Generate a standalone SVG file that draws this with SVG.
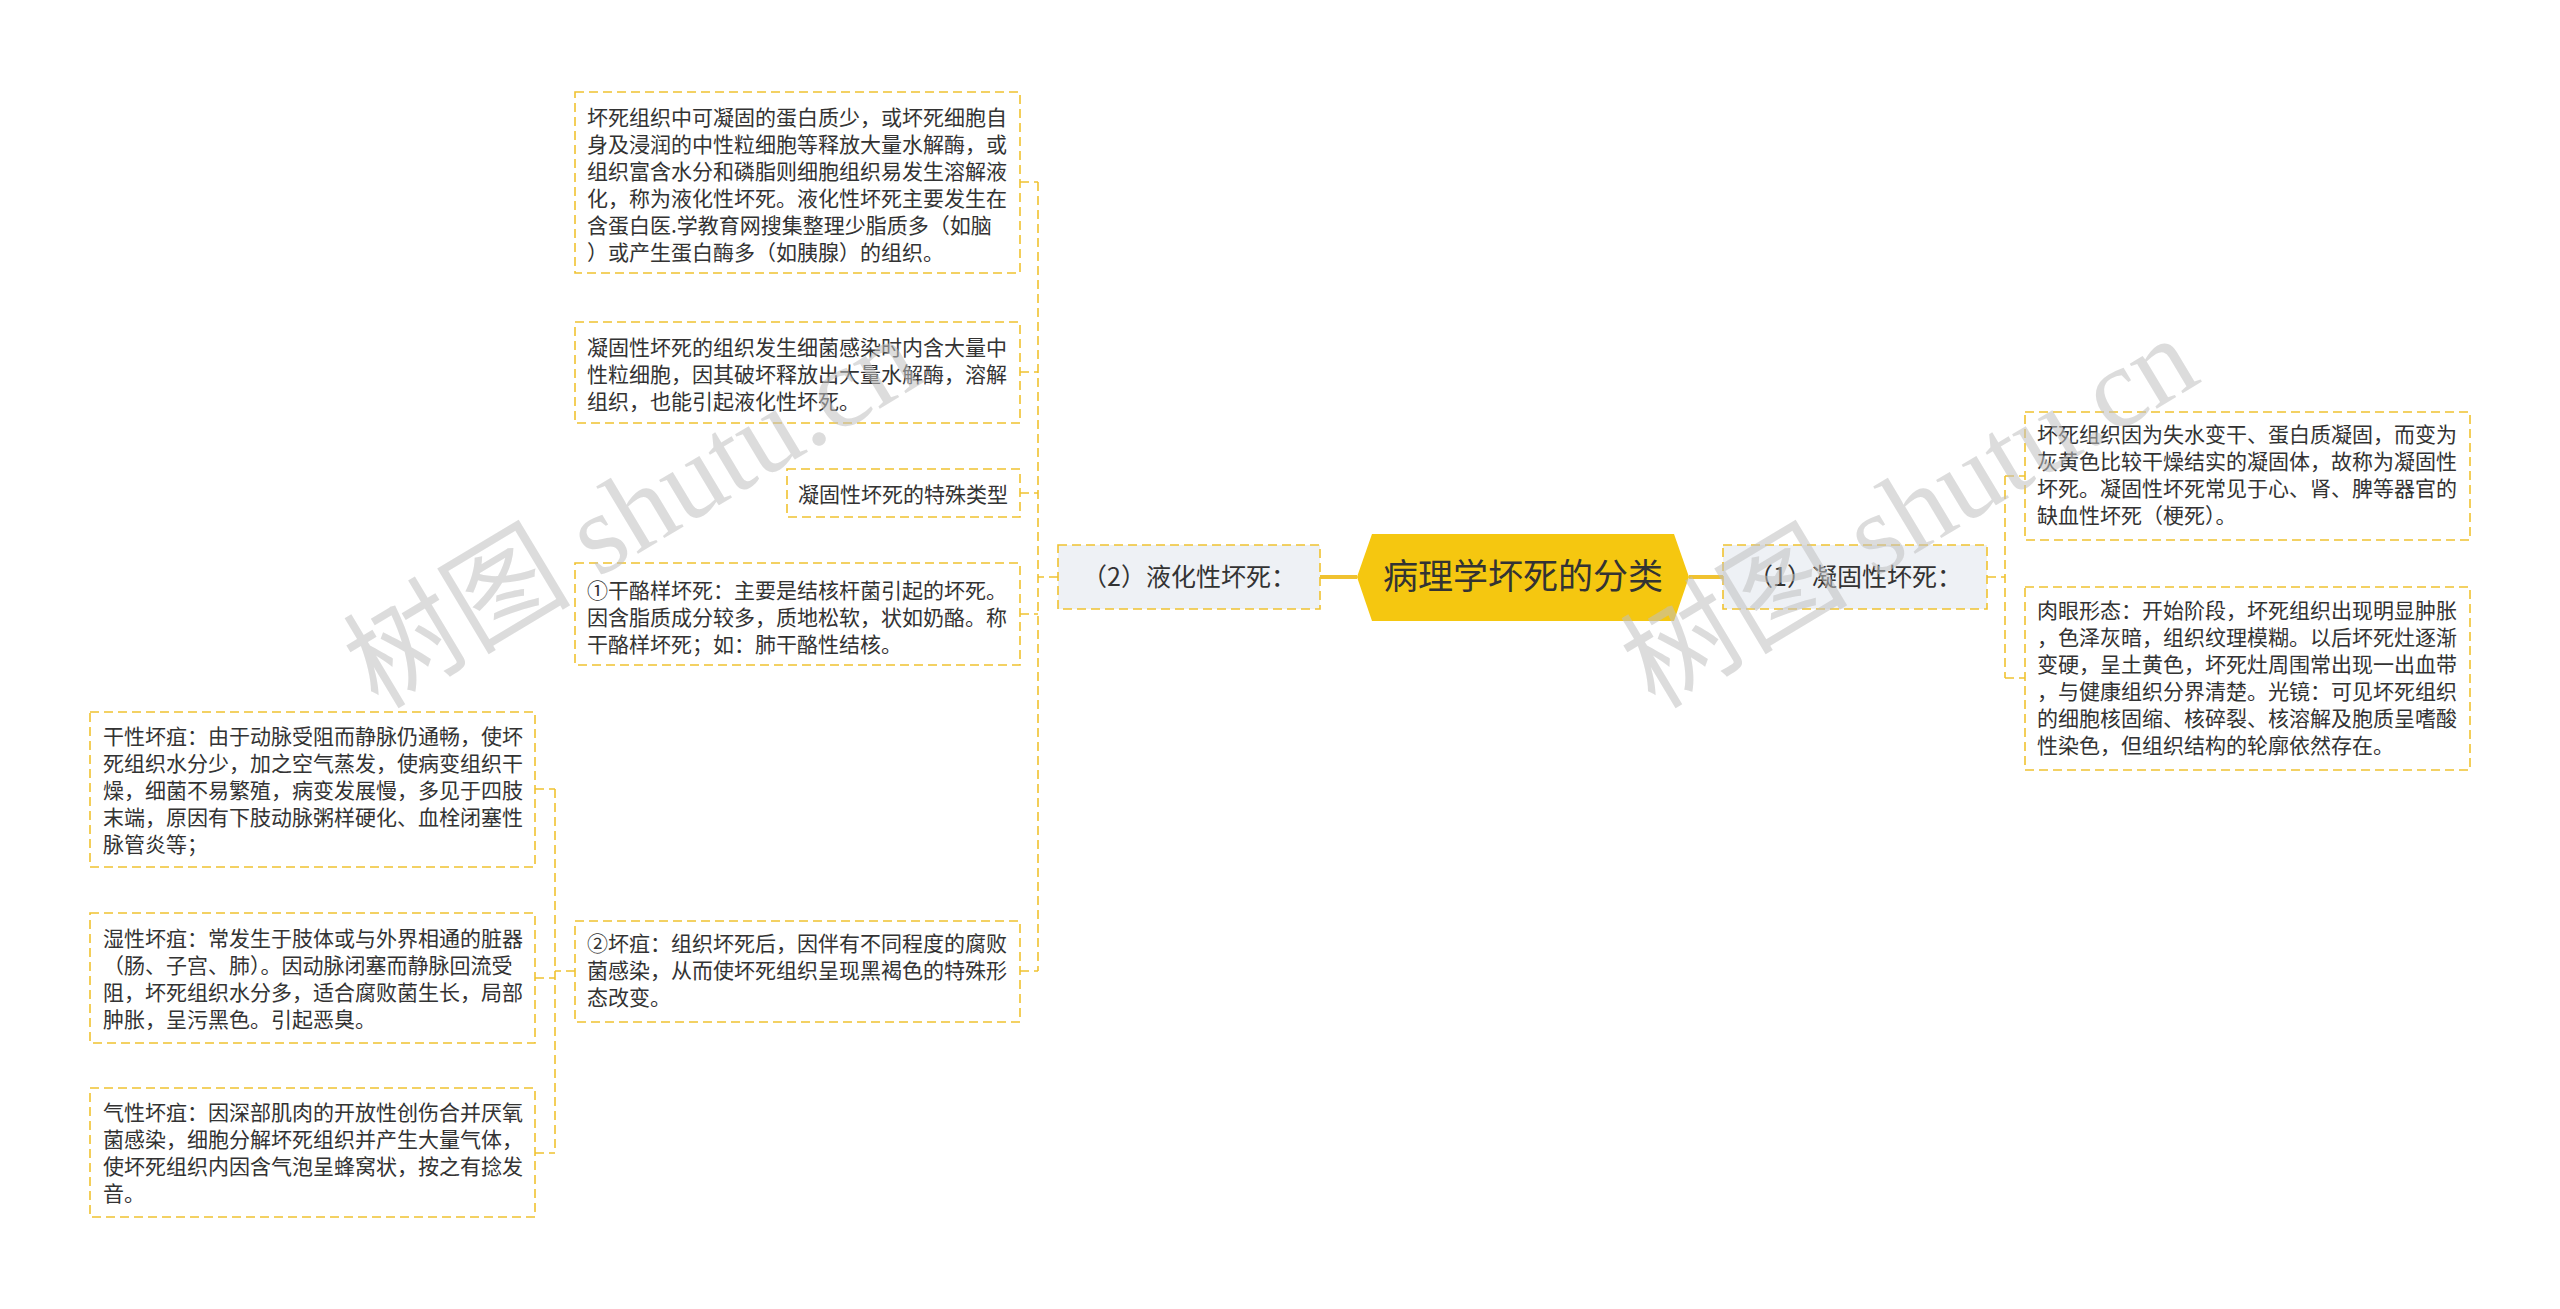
<svg xmlns="http://www.w3.org/2000/svg" width="2560" height="1309" viewBox="0 0 2560 1309">
<style>
.t{font-family:"Noto Sans CJK SC","Noto Sans",sans-serif;font-size:21px;fill:#333333}
.box{fill:#ffffff;stroke:#f0c230;stroke-width:1.6;stroke-dasharray:9 5}
.sub{fill:#eef1f5;stroke:#f0c230;stroke-width:1.6;stroke-dasharray:9 5}
.lab{font-family:"Noto Sans CJK SC","Noto Sans",sans-serif;font-size:25px;fill:#333333}
.con{fill:none;stroke:#f0c230;stroke-width:1.6;stroke-dasharray:9 5}
.main{fill:none;stroke:#f0c230;stroke-width:4}
.wm{font-family:"Liberation Serif","Noto Sans CJK SC",serif;font-size:114px;fill:#c0c0c0;fill-opacity:0.55}
</style>
<rect width="2560" height="1309" fill="#ffffff"/>
<g id="connectors">
<path class="main" d="M1320 577 H1357 M1689 577 H1723"/>
<path class="con" d="M1058 577 H1038 M1038 182 V971 M1020 182 H1038 M1020 372 H1038 M1020 493 H1038 M1020 614 H1038 M1020 971 H1038"/>
<path class="con" d="M575 971 H555 M555 789 V1153 M535 789 H555 M535 978 H555 M535 1153 H555"/>
<path class="con" d="M1987 577 H2005 M2005 476 V678 M2005 476 H2025 M2005 678 H2025"/>
</g>
<g id="root">
<polygon points="1357,577 1372,534 1674,534 1689,577 1674,621 1372,621" fill="#f5c710"/>
<text x="1523" y="589" text-anchor="middle" font-family="Noto Sans CJK SC,sans-serif" font-size="35" fill="#333333">病理学坏死的分类</text>
</g>
<g id="n-liquefactive">
<rect class="sub" x="1058" y="545" width="262" height="64"/>
<text class="lab" x="1189" y="586" text-anchor="middle">（2）液化性坏死：</text>
</g>
<g id="n-coagulative">
<rect class="sub" x="1723" y="545" width="264" height="64"/>
<text class="lab" x="1855" y="586" text-anchor="middle">（1）凝固性坏死：</text>
</g>
<g id="n-liq-desc">
<rect class="box" x="575" y="92" width="445" height="181"/>
<text class="t" x="587"><tspan x="587" y="125">坏死组织中可凝固的蛋白质少，或坏死细胞自</tspan><tspan x="587" y="152">身及浸润的中性粒细胞等释放大量水解酶，或</tspan><tspan x="587" y="179">组织富含水分和磷脂则细胞组织易发生溶解液</tspan><tspan x="587" y="206">化，称为液化性坏死。液化性坏死主要发生在</tspan><tspan x="587" y="233">含蛋白医.学教育网搜集整理少脂质多（如脑</tspan><tspan x="587" y="260">）或产生蛋白酶多（如胰腺）的组织。</tspan></text>
</g>
<g id="n-liq-infect">
<rect class="box" x="575" y="322" width="445" height="101"/>
<text class="t"><tspan x="587" y="355">凝固性坏死的组织发生细菌感染时内含大量中</tspan><tspan x="587" y="382">性粒细胞，因其破坏释放出大量水解酶，溶解</tspan><tspan x="587" y="409">组织，也能引起液化性坏死。</tspan></text>
</g>
<g id="n-special">
<rect class="box" x="787" y="469" width="233" height="48"/>
<text class="t" x="798" y="502">凝固性坏死的特殊类型</text>
</g>
<g id="n-caseous">
<rect class="box" x="575" y="563" width="445" height="102"/>
<text class="t"><tspan x="587" y="598">①干酪样坏死：主要是结核杆菌引起的坏死。</tspan><tspan x="587" y="625">因含脂质成分较多，质地松软，状如奶酪。称</tspan><tspan x="587" y="652">干酪样坏死；如：肺干酪性结核。</tspan></text>
</g>
<g id="n-gangrene">
<rect class="box" x="575" y="921" width="445" height="101"/>
<text class="t"><tspan x="587" y="951">②坏疽：组织坏死后，因伴有不同程度的腐败</tspan><tspan x="587" y="978">菌感染，从而使坏死组织呈现黑褐色的特殊形</tspan><tspan x="587" y="1005">态改变。</tspan></text>
</g>
<g id="n-dry">
<rect class="box" x="90" y="712" width="445" height="155"/>
<text class="t"><tspan x="103" y="744">干性坏疽：由于动脉受阻而静脉仍通畅，使坏</tspan><tspan x="103" y="771">死组织水分少，加之空气蒸发，使病变组织干</tspan><tspan x="103" y="798">燥，细菌不易繁殖，病变发展慢，多见于四肢</tspan><tspan x="103" y="825">末端，原因有下肢动脉粥样硬化、血栓闭塞性</tspan><tspan x="103" y="852">脉管炎等；</tspan></text>
</g>
<g id="n-wet">
<rect class="box" x="90" y="913" width="445" height="130"/>
<text class="t"><tspan x="103" y="946">湿性坏疽：常发生于肢体或与外界相通的脏器</tspan><tspan x="103" y="973">（肠、子宫、肺）。因动脉闭塞而静脉回流受</tspan><tspan x="103" y="1000">阻，坏死组织水分多，适合腐败菌生长，局部</tspan><tspan x="103" y="1027">肿胀，呈污黑色。引起恶臭。</tspan></text>
</g>
<g id="n-gas">
<rect class="box" x="90" y="1088" width="445" height="129"/>
<text class="t"><tspan x="103" y="1120">气性坏疽：因深部肌肉的开放性创伤合并厌氧</tspan><tspan x="103" y="1147">菌感染，细胞分解坏死组织并产生大量气体，</tspan><tspan x="103" y="1174">使坏死组织内因含气泡呈蜂窝状，按之有捻发</tspan><tspan x="103" y="1201">音。</tspan></text>
</g>
<g id="n-coag-desc">
<rect class="box" x="2025" y="412" width="445" height="128"/>
<text class="t"><tspan x="2037" y="442">坏死组织因为失水变干、蛋白质凝固，而变为</tspan><tspan x="2037" y="469">灰黄色比较干燥结实的凝固体，故称为凝固性</tspan><tspan x="2037" y="496">坏死。凝固性坏死常见于心、肾、脾等器官的</tspan><tspan x="2037" y="523">缺血性坏死（梗死）。</tspan></text>
</g>
<g id="n-coag-morph">
<rect class="box" x="2025" y="587" width="445" height="183"/>
<text class="t"><tspan x="2037" y="618">肉眼形态：开始阶段，坏死组织出现明显肿胀</tspan><tspan x="2037" y="645">，色泽灰暗，组织纹理模糊。以后坏死灶逐渐</tspan><tspan x="2037" y="672">变硬，呈土黄色，坏死灶周围常出现一出血带</tspan><tspan x="2037" y="699">，与健康组织分界清楚。光镜：可见坏死组织</tspan><tspan x="2037" y="726">的细胞核固缩、核碎裂、核溶解及胞质呈嗜酸</tspan><tspan x="2037" y="753">性染色，但组织结构的轮廓依然存在。</tspan></text>
</g>
<g id="watermarks">
<text class="wm" x="378" y="710" transform="rotate(-31 378 710)">树图 shutu.cn</text>
<text class="wm" x="1655" y="710" transform="rotate(-31 1655 710)">树图 shutu.cn</text>
</g>
</svg>
